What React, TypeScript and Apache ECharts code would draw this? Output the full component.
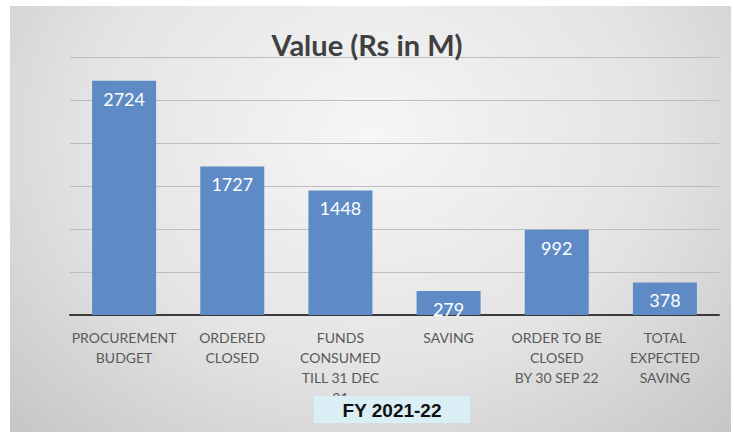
import React, { useEffect, useRef } from "react";
import * as echarts from "echarts";

const categories: string[] = [
  "PROCUREMENT\nBUDGET",
  "ORDERED\nCLOSED",
  "FUNDS\nCONSUMED\nTILL 31 DEC\n21",
  "SAVING",
  "ORDER TO BE\nCLOSED\nBY 30 SEP 22",
  "TOTAL\nEXPECTED\nSAVING",
];
const values: number[] = [2724, 1727, 1448, 279, 992, 378];
const titleText = "Value (Rs in M)";
const footerText = "FY 2021-22";

export default function App() {
  const ref = useRef<HTMLDivElement>(null);
  useEffect(() => {
    if (!ref.current) return;
    const chart = echarts.init(ref.current, null, { renderer: "svg" });
    chart.setOption({
      animation: false,
      backgroundColor: "transparent",
      title: {
        text: titleText,
        left: "center",
        top: 25,
        textStyle: {
          fontFamily: "Lato",
          fontWeight: "bold",
          fontSize: 29,
          color: "#404040",
        },
      },
      grid: { left: 70, right: 15, top: 57, bottom: 117 },
      xAxis: {
        type: "category",
        data: categories,
        axisLine: { lineStyle: { color: "#3a3a3a", width: 2 } },
        axisTick: { show: false },
        axisLabel: {
          interval: 0,
          margin: 12,
          fontFamily: "Lato",
          fontSize: 14,
          lineHeight: 20,
          color: "#595959",
        },
      },
      yAxis: {
        type: "value",
        min: 0,
        max: 3000,
        interval: 500,
        axisLabel: { show: false },
        axisLine: { show: false },
        axisTick: { show: false },
        splitLine: { lineStyle: { color: "#bdbdbd", width: 1 } },
      },
      series: [
        {
          type: "bar",
          data: values,
          barWidth: 64,
          itemStyle: { color: "#5e8bc6" },
          label: {
            show: true,
            position: "insideTop",
            distance: 9,
            color: "#ffffff",
            fontFamily: "Lato",
            fontSize: 18,
          },
        },
      ],
      graphic: [
        {
          type: "rect",
          z: 100,
          shape: { x: 314, y: 396, width: 156, height: 27 },
          style: { fill: "#d9eef5" },
        },
        {
          type: "text",
          z: 101,
          x: 392,
          y: 410,
          style: {
            text: footerText,
            fill: "#111111",
            font: "bold 19px 'Liberation Sans Narrow', 'Liberation Sans', Arial, sans-serif",
            textAlign: "center",
            textVerticalAlign: "middle",
          },
        },
      ],
    });
    return () => chart.dispose();
  }, []);
  return (
    <div style={{ position: "fixed", left: 0, top: 0, width: 734, height: 432, background: "#ffffff" }}>
      <div
        style={{
          position: "absolute",
          left: 10,
          top: 6,
          width: 721,
          height: 426,
          background: "radial-gradient(ellipse at 50% 30%, #f6f6f6 0%, #e4e4e4 55%, #c6c6c6 100%)",
        }}
      />
      <div ref={ref} style={{ position: "absolute", left: 0, top: 0, width: 734, height: 432 }} />
    </div>
  );
}
